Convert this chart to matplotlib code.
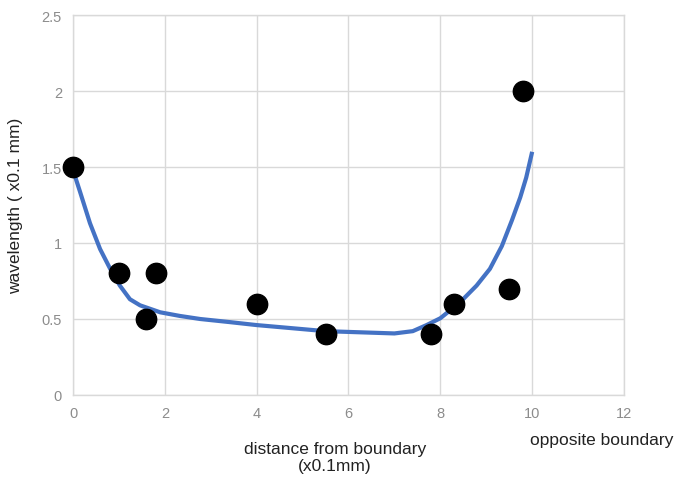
import matplotlib
matplotlib.use("Agg")
import matplotlib.pyplot as plt

plt.rcParams['font.family'] = ['Liberation Sans', 'DejaVu Sans']

# measured wavelength vs. distance from boundary
dist = [0, 1.0, 1.6, 1.8, 4.0, 5.5, 7.8, 8.3, 9.5, 9.8]
wavelength = [1.5, 0.8, 0.5, 0.8, 0.6, 0.4, 0.4, 0.6, 0.7, 2.0]

# fitted trend curve
fit_x = [0, 0.15, 0.37, 0.59, 0.81, 1.02, 1.24, 1.46, 1.9, 2.33, 2.77, 3.4, 4.0,
         4.75, 5.5, 6.0, 6.5, 7.0, 7.4, 7.7, 8.0, 8.43, 8.79, 9.08, 9.34, 9.56,
         9.74, 9.87, 10.0]
fit_y = [1.48, 1.34, 1.13, 0.96, 0.83, 0.72, 0.63, 0.59, 0.544, 0.52, 0.50, 0.48,
         0.46, 0.44, 0.42, 0.415, 0.41, 0.405, 0.42, 0.46, 0.505, 0.61, 0.72, 0.83,
         0.98, 1.15, 1.30, 1.43, 1.6]

x_ticks = [0, 2, 4, 6, 8, 10, 12]
y_ticks = [0, 0.5, 1, 1.5, 2, 2.5]
y_tick_labels = ['0', '0.5', '1', '1.5', '2', '2.5']

fig = plt.figure(figsize=(6.87, 4.89), dpi=100)
ax = fig.add_axes([73 / 687, 1 - 396 / 489, (624 - 73) / 687, (396 - 16) / 489])

grid_c = '#d9d9d9'
ax.set_xlim(0, 12)
ax.set_ylim(0, 2.5)
ax.set_xticks(x_ticks)
ax.set_yticks(y_ticks)
ax.set_yticklabels(y_tick_labels)
ax.grid(True, color=grid_c, linewidth=1.0)
ax.set_axisbelow(True)
for s in ax.spines.values():
    s.set_color(grid_c)
    s.set_linewidth(1.0)
ax.tick_params(length=0, colors='#8c8c8c', labelsize=10.5, pad=8)

ax.plot(fit_x, fit_y, color='#4472C4', linewidth=3.0, solid_capstyle='butt',
        solid_joinstyle='round', zorder=3, clip_on=False)
ax.scatter(dist, wavelength, s=215, color='black', zorder=4, clip_on=False)

ax.set_ylabel('wavelength ( x0.1 mm)', fontsize=12.5, color='#222222', labelpad=13)
fig.text(335 / 687, 1 - 458 / 489, 'distance from boundary\n(x0.1mm)',
         ha='center', va='center', fontsize=12.5, color='#222222', linespacing=1.1)
fig.text(602 / 687, 1 - 441 / 489, 'opposite boundary', ha='center', va='center',
         fontsize=12.5, color='#222222')

fig.savefig('out.png', dpi=100)
